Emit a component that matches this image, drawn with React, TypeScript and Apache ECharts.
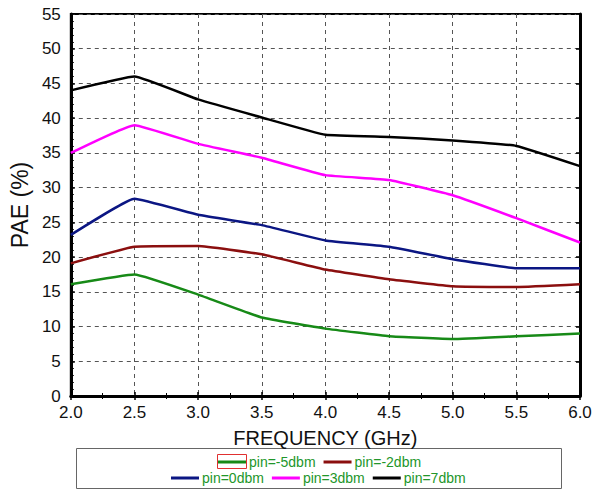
import React, { useEffect, useRef } from "react";
import * as echarts from "echarts";

const freqs = [2.0, 2.5, 3.0, 3.5, 4.0, 4.5, 5.0, 5.5, 6.0];
const pinM5 = [16.1, 17.5, 14.6, 11.3, 9.7, 8.6, 8.2, 8.6, 9.0];
const pinM2 = [19.1, 21.5, 21.6, 20.4, 18.2, 16.8, 15.8, 15.7, 16.1];
const pin0 = [23.2, 28.4, 26.1, 24.6, 22.4, 21.5, 19.7, 18.4, 18.4];
const pin3 = [35.0, 39.0, 36.3, 34.3, 31.8, 31.1, 28.9, 25.6, 22.1];
const pin7 = [44.0, 46.0, 42.7, 40.1, 37.6, 37.3, 36.8, 36.0, 33.1];
const seriesNames = ["pin=-5dbm", "pin=-2dbm", "pin=0dbm", "pin=3dbm", "pin=7dbm"];
const seriesColors = ["#178a17", "#8b0f0f", "#0b1683", "#ff00ff", "#000000"];
const seriesValues = [pinM5, pinM2, pin0, pin3, pin7];

export default function App() {
  const ref = useRef<HTMLDivElement>(null);
  useEffect(() => {
    document.body.style.margin = "0";
    const chart = echarts.init(ref.current!, null, { renderer: "svg" });
    const font = "Liberation Sans, Arial, sans-serif";
    const gridLine = { show: true, lineStyle: { color: "#555", type: [4, 4] as any, width: 1 } };
    const legendText = { fontFamily: font, fontSize: 14, color: "#22962a", padding: [0, 0, 0, -2] };
    chart.setOption({
      animation: false,
      backgroundColor: "#ffffff",
      grid: { left: 67, right: 21, top: 14, bottom: 94, show: true, borderColor: "#000", borderWidth: 2 },
      xAxis: [
        {
          type: "value",
          min: 2,
          max: 6,
          interval: 0.5,
          name: "FREQUENCY (GHz)",
          nameLocation: "middle",
          nameGap: 32,
          nameTextStyle: { fontFamily: font, fontSize: 20, color: "#111" },
          axisLine: { show: true, lineStyle: { color: "#000", width: 3 } },
          axisTick: { show: true, inside: true, length: 4, lineStyle: { color: "#000", width: 1.5 } },
          minorTick: { show: true, splitNumber: 2, length: 3, lineStyle: { color: "#000" } },
          axisLabel: { fontFamily: font, fontSize: 17, color: "#111", margin: 8, formatter: (v: number) => v.toFixed(1) },
          splitLine: gridLine,
        },
        {
          type: "value",
          position: "top",
          min: 2,
          max: 6,
          interval: 0.5,
          axisLine: { show: true, lineStyle: { color: "#000", width: 2 } },
          axisTick: { show: true, inside: true, length: 4, lineStyle: { color: "#000", width: 1.5 } },
          minorTick: { show: true, splitNumber: 2, length: 3, lineStyle: { color: "#000" } },
          axisLabel: { show: false },
          splitLine: { show: false },
        },
      ],
      yAxis: [
        {
          type: "value",
          min: 0,
          max: 55,
          interval: 5,
          name: "PAE (%)",
          nameLocation: "middle",
          nameGap: 34,
          nameTextStyle: { fontFamily: font, fontSize: 23, color: "#111" },
          axisLine: { show: true, lineStyle: { color: "#000", width: 3 } },
          axisTick: { show: true, inside: true, length: 4, lineStyle: { color: "#000", width: 1.5 } },
          minorTick: { show: true, splitNumber: 5, length: 3, lineStyle: { color: "#000" } },
          axisLabel: { fontFamily: font, fontSize: 17, color: "#111", margin: 10 },
          splitLine: gridLine,
        },
        {
          type: "value",
          position: "right",
          min: 0,
          max: 55,
          interval: 5,
          axisLine: { show: true, lineStyle: { color: "#000", width: 3 } },
          axisTick: { show: true, inside: true, length: 4, lineStyle: { color: "#000", width: 1.5 } },
          axisLabel: { show: false },
          splitLine: { show: false },
        },
      ],
      legend: [
        {
          data: seriesNames.slice(0, 2),
          top: 455,
          left: 218,
          padding: 0,
          icon: "rect",
          itemWidth: 28,
          itemHeight: 3,
          itemGap: 8,
          textStyle: legendText,
        },
        {
          data: seriesNames.slice(2),
          top: 471,
          left: 171,
          padding: 0,
          icon: "rect",
          itemWidth: 28,
          itemHeight: 3,
          itemGap: 8,
          textStyle: legendText,
        },
      ],
      graphic: [
        {
          type: "rect",
          shape: { x: 76.5, y: 448.5, width: 485, height: 40 },
          style: { fill: "none", stroke: "#666", lineWidth: 1 },
          z: 0,
        },
        {
          type: "rect",
          shape: { x: 217.5, y: 454.5, width: 29, height: 14 },
          style: { fill: "none", stroke: "#e03030", lineWidth: 1 },
          z: 10,
        },
      ],
      series: seriesValues.map((vals, i) => ({
        name: seriesNames[i],
        type: "line",
        data: freqs.map((f, j) => [f, vals[j]]),
        symbol: "none",
        smooth: 0.1,
        lineStyle: { color: seriesColors[i], width: 2.5 },
        itemStyle: { color: seriesColors[i] },
      })),
    });
    return () => chart.dispose();
  }, []);
  return <div ref={ref} style={{ width: 601, height: 490 }} />;
}
